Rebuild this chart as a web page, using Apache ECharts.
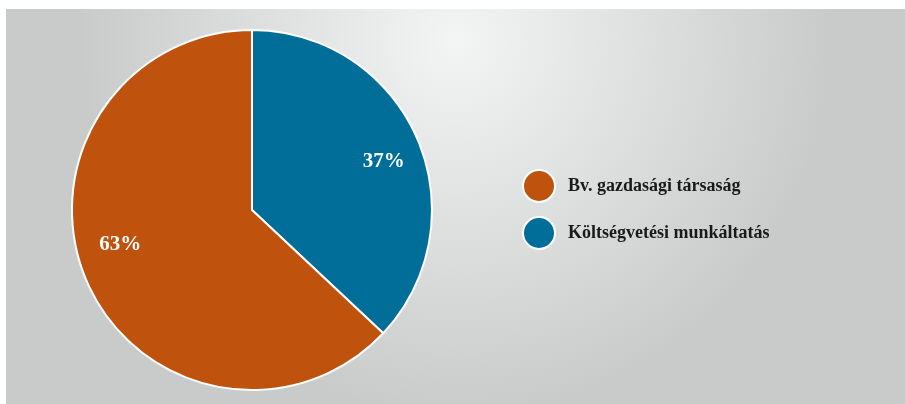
<!DOCTYPE html>
<html>
<head>
<meta charset="utf-8">
<style>
  html, body { margin: 0; padding: 0; background: #fff; }
  #chart { width: 905px; height: 404px; }
</style>
<script src="https://cdn.jsdelivr.net/npm/echarts@6/dist/echarts.min.js"></script>
</head>
<body>
<div id="chart"></div>
<script>
const categories = ['Költségvetési munkáltatás', 'Bv. gazdasági társaság']
const shares = [37, 63]
const legendOrder = ['Bv. gazdasági társaság', 'Költségvetési munkáltatás']
const colors = ['#006e99', '#bf520d']

const serif = '"Liberation Serif", "DejaVu Serif", serif'

const pieData = categories.map((name, i) => ({ name, value: shares[i] }))

const chart = echarts.init(document.getElementById('chart'))

chart.setOption({
  animation: false,
  color: colors,
  graphic: [{
    type: 'rect',
    silent: true,
    z: -10,
    shape: { x: 6, y: 9, width: 899, height: 395 },
    style: {
      fill: new echarts.graphic.RadialGradient(0.5, 0.08, 0.95, [
        { offset: 0, color: '#f3f4f4' },
        { offset: 0.55, color: '#dcdddd' },
        { offset: 1, color: '#c9caca' }
      ])
    }
  }],
  legend: {
    data: legendOrder,
    orient: 'vertical',
    left: 522,
    top: 169,
    padding: 0,
    icon: 'circle',
    itemWidth: 32,
    itemHeight: 32,
    itemGap: 13,
    selectedMode: false,
    textStyle: {
      fontFamily: serif,
      fontWeight: 'bold',
      fontSize: 18,
      color: '#1a1a1a',
      padding: [0, 0, 0, 8]
    }
  },
  series: [
    {
      type: 'pie',
      center: [252, 210],
      radius: [0, 180],
      startAngle: 90,
      clockwise: true,
      silent: true,
      data: pieData,
      label: { show: false },
      labelLine: { show: false },
      itemStyle: { borderColor: '#ffffff', borderWidth: 2 }
    },
    {
      // transparent ring used only to place the percentage labels
      type: 'pie',
      center: [252, 203],
      radius: [90, 180],
      startAngle: 84,
      clockwise: true,
      silent: true,
      data: pieData,
      legendHoverLink: false,
      itemStyle: { color: 'rgba(0,0,0,0)', borderWidth: 0 },
      label: {
        show: true,
        position: 'inside',
        formatter: p => p.value + '%',
        fontFamily: serif,
        fontWeight: 'bold',
        fontSize: 21,
        color: '#ffffff'
      },
      labelLine: { show: false }
    }
  ]
})
</script>
</body>
</html>
